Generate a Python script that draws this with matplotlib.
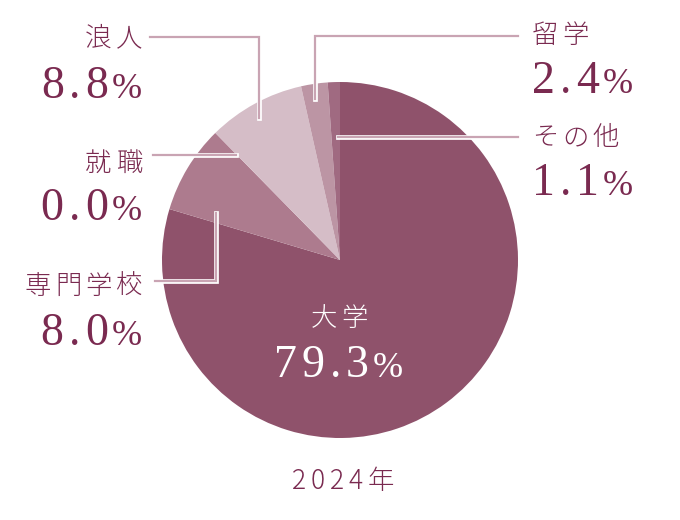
import matplotlib
matplotlib.use("Agg")
import matplotlib.pyplot as plt
import matplotlib.patheffects as pe

# data
labels = ["大学", "専門学校", "就職", "浪人", "留学", "その他"]
values = [79.3, 8.0, 0.0, 8.8, 2.4, 1.1]
year = "2024年"

colors = ["#8f526b", "#ad7b8e", "#ad7b8e", "#d5bdc7", "#bc95a4", "#a06a81"]
txt_color = "#7a2a50"
line_color = "#c9a4b3"
cjk = ["Noto Sans CJK JP", "DejaVu Sans"]
serif = "Liberation Serif"

W, H = 680, 520


def Y(y):
    return H - y


fig = plt.figure(figsize=(6.8, 5.2), dpi=100)
ax = fig.add_axes([0, 0, 1, 1])

ax.pie(values, colors=colors, startangle=90, counterclock=False,
       center=(340, Y(260)), radius=178, frame=True,
       wedgeprops=dict(linewidth=0))
ax.set_xlim(0, W)
ax.set_ylim(0, H)
ax.set_aspect("equal")
ax.axis("off")

renderer = fig.canvas.get_renderer()


def spaced(x, y, s, track, ha="left", va="baseline", **kw):
    """draw a string char by char with extra letter spacing (px)"""
    widths = []
    for ch in s:
        t = ax.text(0, 0, ch, **kw)
        widths.append(t.get_window_extent(renderer).width)
        t.remove()
    total = sum(widths) + track * (len(s) - 1)
    if ha == "right":
        cx = x - total
    elif ha == "center":
        cx = x - total / 2
    else:
        cx = x
    for ch, w in zip(s, widths):
        ax.text(cx, y, ch, ha="left", va=va, **kw)
        cx += w + track
    return cx - track


# leader lines (pixel coords from top-left)
leaders = {
    "浪人": [(150, 37), (259, 37), (259, 118)],
    "就職": [(153, 155), (236, 155)],
    "専門学校": [(155, 281), (216, 281), (216, 213)],
    "留学": [(518, 36), (315, 36), (315, 99)],
    "その他": [(518, 137), (338, 137)],
}
for name, pts in leaders.items():
    xs = [p[0] for p in pts]
    ys = [Y(p[1]) for p in pts]
    ax.plot(xs, ys, color=line_color, lw=1.6, solid_joinstyle="miter",
            path_effects=[pe.Stroke(linewidth=3.4, foreground="white"), pe.Normal()])

name_kw = dict(fontsize=19, family=cjk, fontweight="light")
num_kw = dict(fontsize=33, family=serif)
pct_kw = dict(fontsize=26, family=serif)

# label layout: (name x, name y-center, number x, number baseline, side)
layout = {
    "浪人": (142, 38, 108, 98, "left"),
    "就職": (142, 163, 108, 220, "left"),
    "専門学校": (142, 286, 108, 345, "left"),
    "留学": (532, 35, 532, 93, "right"),
    "その他": (532, 137, 532, 195, "right"),
}
for name, val in zip(labels, values):
    if name == "大学":
        continue
    nx, ny, sx, by, side = layout[name]
    ha = "right" if side == "left" else "left"
    spaced(nx, Y(ny), name, 4, ha=ha, va="center", color=txt_color, **name_kw)
    end = spaced(sx, Y(by), f"{val:.1f}", 5, ha=ha, color=txt_color, **num_kw)
    px = sx + 4 if side == "left" else end + 4
    ax.text(px, Y(by), "%", ha="left", va="baseline", color=txt_color, **pct_kw)

# centre label
spaced(339, Y(318), labels[0], 4, ha="center", va="center", color="white", **name_kw)
spaced(369, Y(377), f"{values[0]:.1f}", 5, ha="right", color="white", **num_kw)
ax.text(373, Y(377), "%", ha="left", va="baseline", color="white", **pct_kw)

spaced(343, Y(481), year, 5, ha="center", va="center", color=txt_color, **name_kw)

fig.savefig("out.png", dpi=100, facecolor="white")
